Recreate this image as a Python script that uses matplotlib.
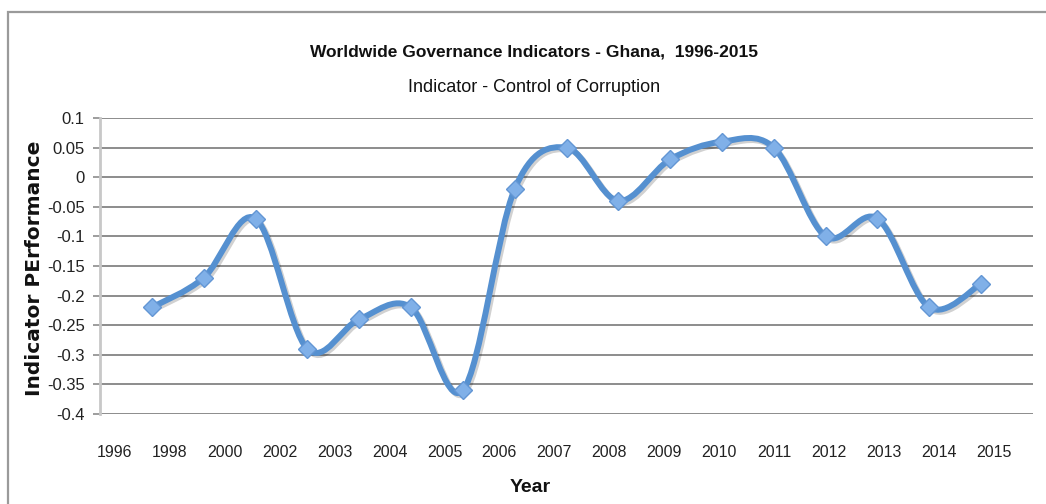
import numpy as np
import matplotlib
matplotlib.use('Agg')
import matplotlib.pyplot as plt
from matplotlib.path import Path
from matplotlib.patches import PathPatch, Rectangle
import matplotlib.patheffects as pe

# values (17 points)
values = [-0.22, -0.17, -0.07, -0.29, -0.24, -0.22, -0.36, -0.02, 0.05,
          -0.04, 0.03, 0.06, 0.05, -0.10, -0.07, -0.22, -0.18]
year_labels = ['1996', '1998', '2000', '2002', '2003', '2004', '2005', '2006',
               '2007', '2008', '2009', '2010', '2011', '2012', '2013', '2014',
               '2015']
y_ticks = [0.1, 0.05, 0, -0.05, -0.1, -0.15, -0.2, -0.25, -0.3, -0.35, -0.4]
y_tick_labels = ['0.1', '0.05', '0', '-0.05', '-0.1', '-0.15', '-0.2', '-0.25',
                 '-0.3', '-0.35', '-0.4']

plt.rcParams['font.family'] = ['Liberation Sans', 'DejaVu Sans']

W, H = 1046, 504
fig = plt.figure(figsize=(W / 100, H / 100), dpi=100)
fig.patch.set_facecolor('white')

# outer chart border
fig.patches.append(Rectangle((8 / W, -0.05), 1.1, (H - 12) / H + 0.05,
                             transform=fig.transFigure, fill=False,
                             edgecolor='#9a9a9a', linewidth=1.6))

ax = fig.add_axes([100 / W, (H - 414) / H, 933 / W, 296 / H])

x = np.arange(1, len(values) + 1)
y = np.array(values, dtype=float)


def smooth_path(xs, ys):
    # Excel-style smoothed line: Bezier segments with Catmull-Rom control points
    pts = np.column_stack([xs, ys])
    verts = [pts[0]]
    codes = [Path.MOVETO]
    n = len(pts)
    for i in range(n - 1):
        p0 = pts[i - 1] if i > 0 else pts[i]
        p1 = pts[i]
        p2 = pts[i + 1]
        p3 = pts[i + 2] if i + 2 < n else pts[i + 1]
        c1 = p1 + (p2 - p0) / 6.0
        c2 = p2 - (p3 - p1) / 6.0
        verts += [c1, c2, p2]
        codes += [Path.CURVE4] * 3
    return Path(verts, codes)


line = PathPatch(smooth_path(x, y), facecolor='none', edgecolor='#5590D0',
                 linewidth=4.3, capstyle='round', joinstyle='round', zorder=3,
                 path_effects=[pe.SimpleLineShadow(offset=(1.5, -1.5), alpha=0.18),
                               pe.Normal()])
ax.add_patch(line)
ax.plot(x, y, linestyle='none', marker='D', markersize=9,
        markerfacecolor='#80B0E8', markeredgecolor='#6396D4',
        markeredgewidth=1, zorder=4)

ax.set_xlim(0, 18)
ax.set_ylim(-0.4, 0.1)

ax.set_yticks(y_ticks)
ax.set_yticklabels(y_tick_labels)
ax.yaxis.grid(True, color='#8c8c8c', linewidth=1.4)
ax.set_axisbelow(True)

label_pos = 0.286 + 1.06 * np.arange(len(year_labels))
ax.set_xticks(label_pos)
ax.set_xticklabels(year_labels)
ax.tick_params(axis='x', length=0, pad=22, labelsize=11.5, colors='#222222')
ax.tick_params(axis='y', length=5, width=1.2, color='#8c8c8c', pad=6,
               labelsize=12, labelcolor='#222222')

for s in ['top', 'right', 'bottom']:
    ax.spines[s].set_visible(False)
ax.spines['left'].set_color('#c8c8c8')
ax.spines['left'].set_linewidth(2)

fig.text(534 / W, 1 - 52 / H, 'Worldwide Governance Indicators - Ghana,  1996-2015',
         ha='center', va='center', fontsize=12.5, fontweight='bold', color='#111111')
fig.text(534 / W, 1 - 87 / H, 'Indicator - Control of Corruption',
         ha='center', va='center', fontsize=13, color='#111111')
fig.text(530 / W, 1 - 488 / H, 'Year', ha='center', va='center',
         fontsize=14, fontweight='bold', color='#111111')
fig.text(35 / W, 1 - 268 / H, 'Indicator PErformance', ha='center', va='center',
         rotation=90, fontsize=14.5, fontweight='bold', color='#111111',
         family=['DejaVu Sans'])

fig.savefig('out.png', dpi=100, facecolor='white')
